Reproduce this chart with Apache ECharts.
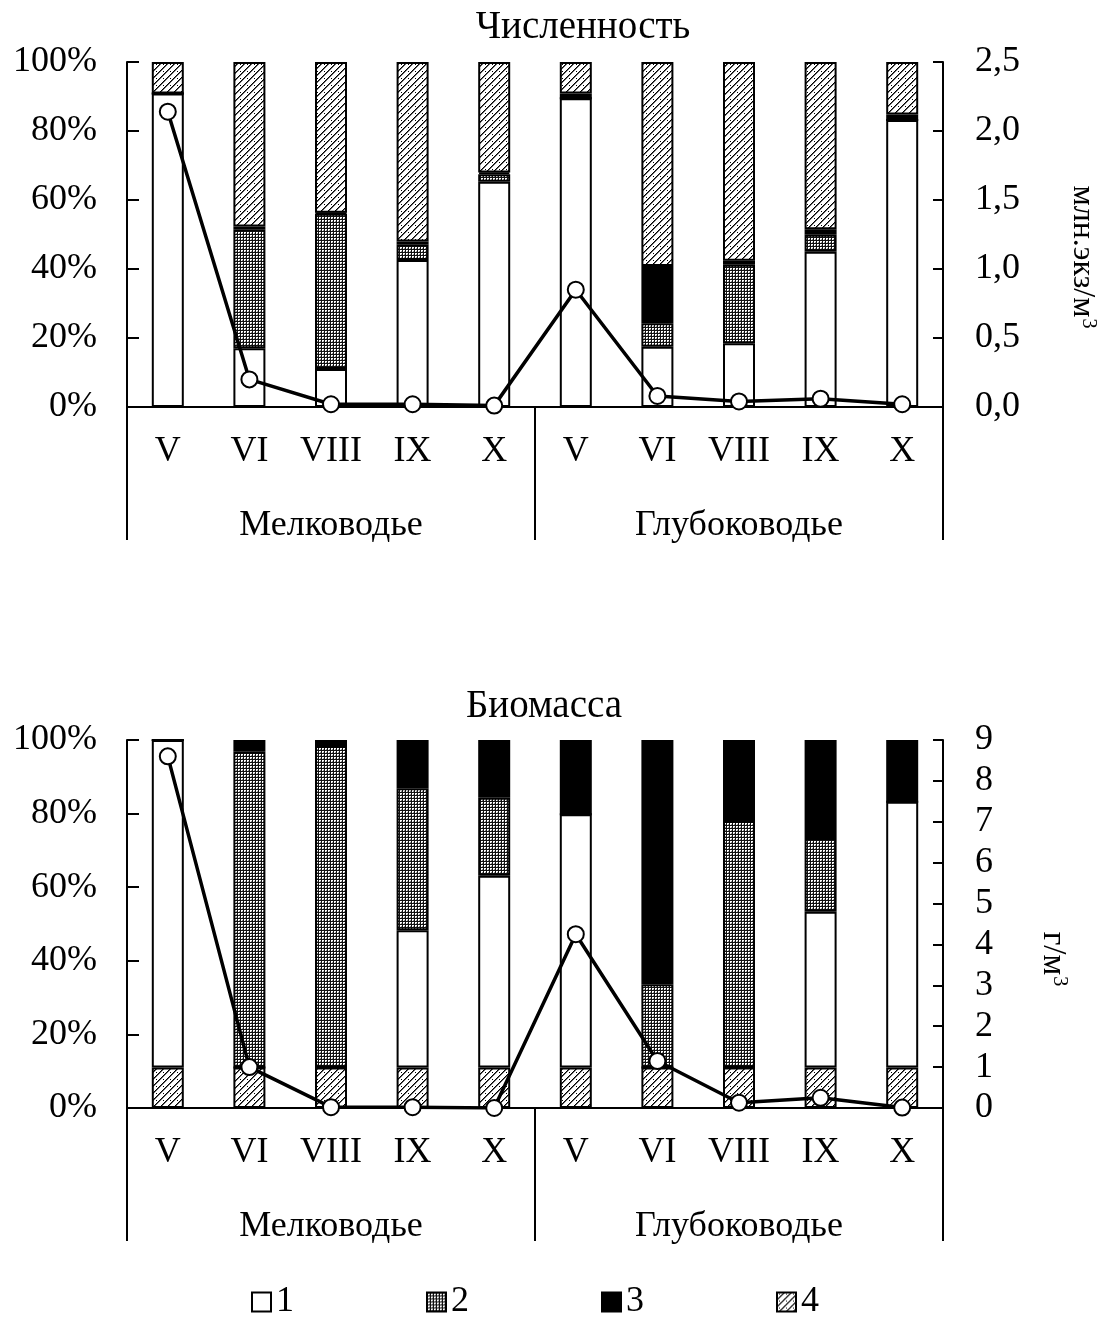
<!DOCTYPE html>
<html>
<head>
<meta charset="utf-8">
<script src="https://cdn.jsdelivr.net/npm/echarts@6/dist/echarts.min.js"></script>
<style>
  html, body { margin: 0; padding: 0; background: #fff; }
  #chart { width: 1107px; height: 1318px; }
</style>
</head>
<body>
<div id="chart"></div>
<script>
// Month labels within each depth zone
const months = ['V', 'VI', 'VIII', 'IX', 'X'];
const zones = ['Мелководье', 'Глубоководье'];
const categories = ['V', 'VI', 'VIII', 'IX', 'X', 'V', 'VI', 'VIII', 'IX', 'X'];
const groupNames = ['1', '2', '3', '4'];

// Численность: share of each group, %
const num1 = [90.9, 17.0, 11.0, 42.6, 65.3, 89.5, 17.5, 18.5, 45.0, 83.2];
const num2 = [0, 34.5, 45.0, 4.6, 2.2, 0, 6.8, 22.7, 4.9, 0];
const num3 = [0, 0.8, 0.3, 0.8, 0.5, 1.4, 16.6, 1.2, 1.6, 1.6];
const num4 = [9.1, 47.7, 43.7, 52.0, 32.0, 9.1, 59.1, 57.6, 48.5, 15.2];
// Численность total, млн. экз/м3
const numTotal = [2.14, 0.20, 0.02, 0.02, 0.01, 0.85, 0.08, 0.04, 0.06, 0.02];

// Биомасса: share of each group, %
const bio1 = [89.0, 0, 0, 37.3, 52.1, 68.8, 0, 0, 42.3, 72.2];
const bio2 = [0, 85.8, 87.4, 38.6, 21.2, 0, 22.6, 67.0, 20.1, 0];
const bio3 = [0, 3.2, 1.6, 13.1, 15.7, 20.2, 66.4, 22.0, 26.6, 16.8];
const bio4 = [11, 11, 11, 11, 11, 11, 11, 11, 11, 11];
// Биомасса total, г/м3
const bioTotal = [8.6, 1.0, 0.02, 0.02, 0.0, 4.25, 1.15, 0.13, 0.25, 0.01];

const FONT = "'Liberation Serif', 'Times New Roman', serif";
const FS = 36;

// fill textures
function dotPattern() {
  const c = document.createElement('canvas');
  c.width = 3; c.height = 3;
  const g = c.getContext('2d');
  g.fillStyle = '#111111'; g.fillRect(0, 0, 3, 3);
  g.fillStyle = '#ffffff';
  g.fillRect(1, 1, 2, 2);
  g.fillStyle = '#8a8a8a';
  g.fillRect(2, 2, 1, 1);
  return c;
}
function hatchPattern() {
  const n = 7;
  const c = document.createElement('canvas');
  c.width = n; c.height = n;
  const g = c.getContext('2d');
  g.fillStyle = '#ffffff'; g.fillRect(0, 0, n, n);
  g.fillStyle = '#000000';
  for (let i = 0; i < n; i++) g.fillRect(i, n - 1 - i, 1, 1);
  g.fillStyle = '#666666';
  for (let i = 0; i < n; i++) g.fillRect((i + 1) % n, n - 1 - i, 1, 1);
  g.fillStyle = '#000000';
  g.fillRect(2, 1, 1, 1);
  return c;
}

const fills = {
  '1': '#ffffff',
  '2': { image: dotPattern(), repeat: 'repeat' },
  '3': '#000000',
  '4': { image: hatchPattern(), repeat: 'repeat' }
};

const gridLeft = 127, gridWidth = 816;
const grids = [
  { left: gridLeft, top: 62, width: gridWidth, height: 345 },
  { left: gridLeft, top: 740, width: gridWidth, height: 368 }
];

function catAxis(gi) {
  return {
    type: 'category', gridIndex: gi, data: categories, position: 'bottom', offset: 0,
    axisLine: { show: true, lineStyle: { color: '#000', width: 2 } },
    axisTick: { show: false },
    axisLabel: { interval: 0, margin: 27, color: '#000', fontSize: FS, fontFamily: FONT, lineHeight: FS },
    splitLine: { show: false }
  };
}
function zoneAxis(gi) {
  return {
    type: 'category', gridIndex: gi, data: zones, position: 'bottom', offset: 0,
    axisLine: { show: false },
    axisTick: { show: true, inside: false, length: 133, alignWithLabel: false, interval: 0,
      lineStyle: { color: '#000', width: 2 } },
    axisLabel: { interval: 0, margin: 101, color: '#000', fontSize: FS, fontFamily: FONT, lineHeight: FS },
    splitLine: { show: false }
  };
}
function pctAxis(gi) {
  return {
    type: 'value', gridIndex: gi, position: 'left', min: 0, max: 100, interval: 20,
    axisLine: { show: true, lineStyle: { color: '#000', width: 2 } },
    axisTick: { show: true, inside: true, length: 12, lineStyle: { color: '#000', width: 2 } },
    axisLabel: { formatter: '{value}%', margin: 30, color: '#000', fontSize: FS, fontFamily: FONT },
    splitLine: { show: false }
  };
}
function totalAxis(gi, max, interval, digits) {
  return {
    type: 'value', gridIndex: gi, position: 'right', min: 0, max: max, interval: interval,
    axisLine: { show: true, lineStyle: { color: '#000', width: 2 } },
    axisTick: { show: true, inside: true, length: 10, lineStyle: { color: '#000', width: 2 } },
    axisLabel: {
      formatter: v => v.toFixed(digits).replace('.', ','),
      margin: 32, color: '#000', fontSize: FS, fontFamily: FONT
    },
    splitLine: { show: false }
  };
}

function barSeries(name, data, stack, axisIdx) {
  return {
    name: name, type: 'bar', stack: stack, data: data,
    xAxisIndex: axisIdx, yAxisIndex: axisIdx, barWidth: 32,
    itemStyle: { color: fills[name], borderColor: '#000', borderWidth: 2 },
    emphasis: { disabled: true }, animation: false
  };
}
function lineSeries(name, data, xIdx, yIdx) {
  return {
    name: name, type: 'line', data: data, xAxisIndex: xIdx, yAxisIndex: yIdx, z: 10,
    symbol: 'circle', symbolSize: 16, showSymbol: true,
    lineStyle: { color: '#000', width: 3.5 },
    itemStyle: { color: '#fff', borderColor: '#000', borderWidth: 2 },
    emphasis: { disabled: true }, animation: false
  };
}

function axisTitle(x, y, main, fsMain) {
  return {
    type: 'text', x: x, y: y, rotation: -Math.PI / 2,
    style: {
      text: '{a|' + main + '}{s|3}',
      align: 'center', verticalAlign: 'middle',
      rich: {
        a: { fontSize: fsMain, fontFamily: FONT, fill: '#000', lineHeight: fsMain, verticalAlign: 'bottom' },
        s: { fontSize: Math.round(fsMain * 0.62), fontFamily: FONT, fill: '#000', lineHeight: fsMain, verticalAlign: 'top', padding: [0, 0, 0, 1] }
      }
    }
  };
}

const chart = echarts.init(document.getElementById('chart'), null, { renderer: 'canvas' });
chart.setOption({
  backgroundColor: '#fff',
  animation: false,
  grid: grids,
  xAxis: [catAxis(0), zoneAxis(0), catAxis(1), zoneAxis(1)],
  yAxis: [pctAxis(0), totalAxis(0, 2.5, 0.5, 1), pctAxis(1), totalAxis(1, 9, 1, 0)],
  legend: {
    data: groupNames, left: 251, top: 1284, padding: 0,
    icon: 'rect', itemWidth: 19, itemHeight: 19, itemGap: 132,
    selectedMode: false,
    itemStyle: { borderColor: '#000', borderWidth: 2 },
    textStyle: { color: '#000', fontSize: FS, fontFamily: FONT, padding: [0, 0, 0, 0] }
  },
  series: [
    barSeries('1', num1, 'num', 0),
    barSeries('2', num2, 'num', 0),
    barSeries('3', num3, 'num', 0),
    barSeries('4', num4, 'num', 0),
    lineSeries('Численность', numTotal, 0, 1),
    barSeries('4', bio4, 'bio', 2),
    barSeries('1', bio1, 'bio', 2),
    barSeries('2', bio2, 'bio', 2),
    barSeries('3', bio3, 'bio', 2),
    lineSeries('Биомасса', bioTotal, 2, 3)
  ],
  graphic: [
    { type: 'text', x: 583, y: 28, style: { text: 'Численность', align: 'center', verticalAlign: 'middle',
      fontSize: 39, fontFamily: FONT, fill: '#000' } },
    { type: 'text', x: 544, y: 707, style: { text: 'Биомасса', align: 'center', verticalAlign: 'middle',
      fontSize: 39, fontFamily: FONT, fill: '#000' } },
    axisTitle(1082, 257, 'млн.экз/м', 32),
    axisTitle(1053, 959, 'г/м', 33)
  ]
});
</script>
</body>
</html>
